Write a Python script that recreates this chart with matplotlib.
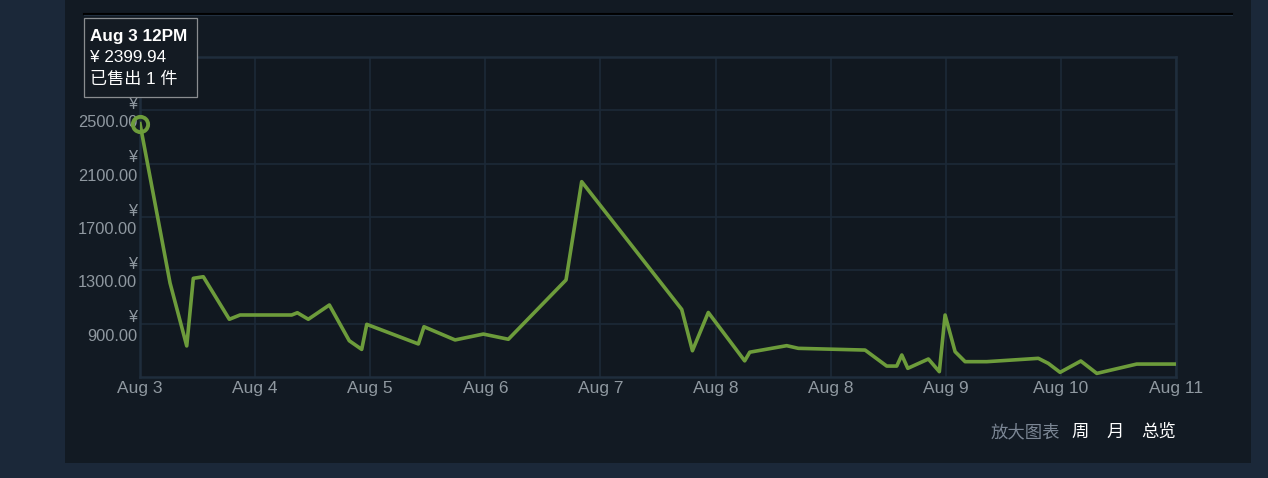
import matplotlib
matplotlib.use('Agg')
import matplotlib.pyplot as plt
from matplotlib.patches import Rectangle

# Dados do grafico (dias desde Aug 3, preco em ¥)
days = [0.0, 0.261, 0.406, 0.463, 0.55, 0.776, 0.869, 1.318, 1.367, 1.462,
        1.645, 1.818, 1.926, 1.970, 2.418, 2.467, 2.737, 2.983, 3.200, 3.701,
        3.837, 4.706, 4.799, 4.937, 5.253, 5.297, 5.618, 5.719, 6.299, 6.487,
        6.574, 6.618, 6.670, 6.849, 6.944, 6.994, 7.081, 7.168, 7.356, 7.804,
        7.891, 7.993, 8.173, 8.312, 8.659, 8.992]
prices = [2400, 1205, 733, 1240, 1252, 933, 965, 965, 982, 933,
          1040, 772, 707, 895, 748, 877, 778, 822, 783, 1228,
          1965, 1007, 697, 984, 621, 686, 735, 715, 702, 582,
          582, 665, 565, 635, 540, 965, 690, 615, 615, 640,
          602, 535, 620, 527, 597, 597]

x_labels = ['Aug 3', 'Aug 4', 'Aug 5', 'Aug 6', 'Aug 7', 'Aug 8', 'Aug 8',
            'Aug 9', 'Aug 10', 'Aug 11']
y_ticks = [900, 1300, 1700, 2100, 2500]

tip_lines = ['Aug 3 12PM', '¥ 2399.94', '已售出 1 件']
range_labels = ['周', '月', '总览']

W, H = 1268, 478
fonts = ['Liberation Sans', 'Noto Sans CJK SC', 'DejaVu Sans']
txt_color = '#8f98a0'
green = '#6d9c3b'

fig = plt.figure(figsize=(W / 100, H / 100), dpi=100)
fig.patch.set_facecolor('#1b2839')

# camada de fundo (painel, linha do topo, links de baixo)
bg = fig.add_axes([0, 0, 1, 1], zorder=0)
bg.set_xlim(0, W)
bg.set_ylim(H, 0)
bg.axis('off')
bg.add_patch(Rectangle((65, 0), 1186, 463, facecolor='#121a23', edgecolor='none'))
bg.plot([84, 1232], [13.5, 13.5], color='#000000', lw=1.5)
bg.plot([84, 1232], [15.2, 15.2], color='#223040', lw=0.8)
bg.text(1060, 432, '放大图表', color='#7b8694', fontsize=12.5, family=fonts,
        ha='right', va='center')
for lbl, xc in zip(range_labels, [1080, 1115, 1159]):
    bg.text(xc, 432, lbl, color='#ffffff', fontsize=12.5, family=fonts,
            ha='center', va='center')

# grafico principal
left, right, top, bottom = 140, 1176, 57, 377
ax = fig.add_axes([left / W, (H - bottom) / H, (right - left) / W, (bottom - top) / H],
                  zorder=1)
ax.set_facecolor('#111820')
ax.plot(days, prices, color=green, lw=2.6, solid_joinstyle='round', zorder=3)
ax.plot(days[:1], prices[:1], marker='o', ms=11, mew=2.8, mfc='none', mec=green,
        clip_on=False, zorder=4)
ax.set_xlim(0, 9)
ax.set_ylim(500, 2900)
ax.set_xticks(range(len(x_labels)))
ax.set_xticklabels(x_labels)
ax.set_yticks(y_ticks)
ax.set_yticklabels(['¥\n%.2f' % v for v in y_ticks], linespacing=1.3, ha='right')
ax.tick_params(length=0, colors=txt_color, labelsize=12.5, pad=3)
ax.tick_params(axis='y', labelsize=11.8, pad=2)
for t in ax.get_xticklabels() + ax.get_yticklabels():
    t.set_family(fonts)
ax.grid(True, color='#1c2937', lw=1.2)
ax.set_axisbelow(True)
for s in ax.spines.values():
    s.set_color('#1f2d3c')
    s.set_linewidth(1.8)

# tooltip
tip = fig.add_axes([0, 0, 1, 1], zorder=2)
tip.set_xlim(0, W)
tip.set_ylim(H, 0)
tip.axis('off')
tip.patch.set_alpha(0)
tip.add_patch(Rectangle((83.5, 17.5), 113, 79, facecolor='#141b23',
                        edgecolor='#8a8d90', lw=0.9))
for i, (line, yc) in enumerate(zip(tip_lines, [36, 57, 79])):
    tip.text(90, yc, line, color='#ffffff', fontsize=12.3, family=fonts,
             weight='bold' if i == 0 else 'normal', ha='left', va='center')

fig.savefig('out.png', dpi=100, facecolor=fig.get_facecolor())
